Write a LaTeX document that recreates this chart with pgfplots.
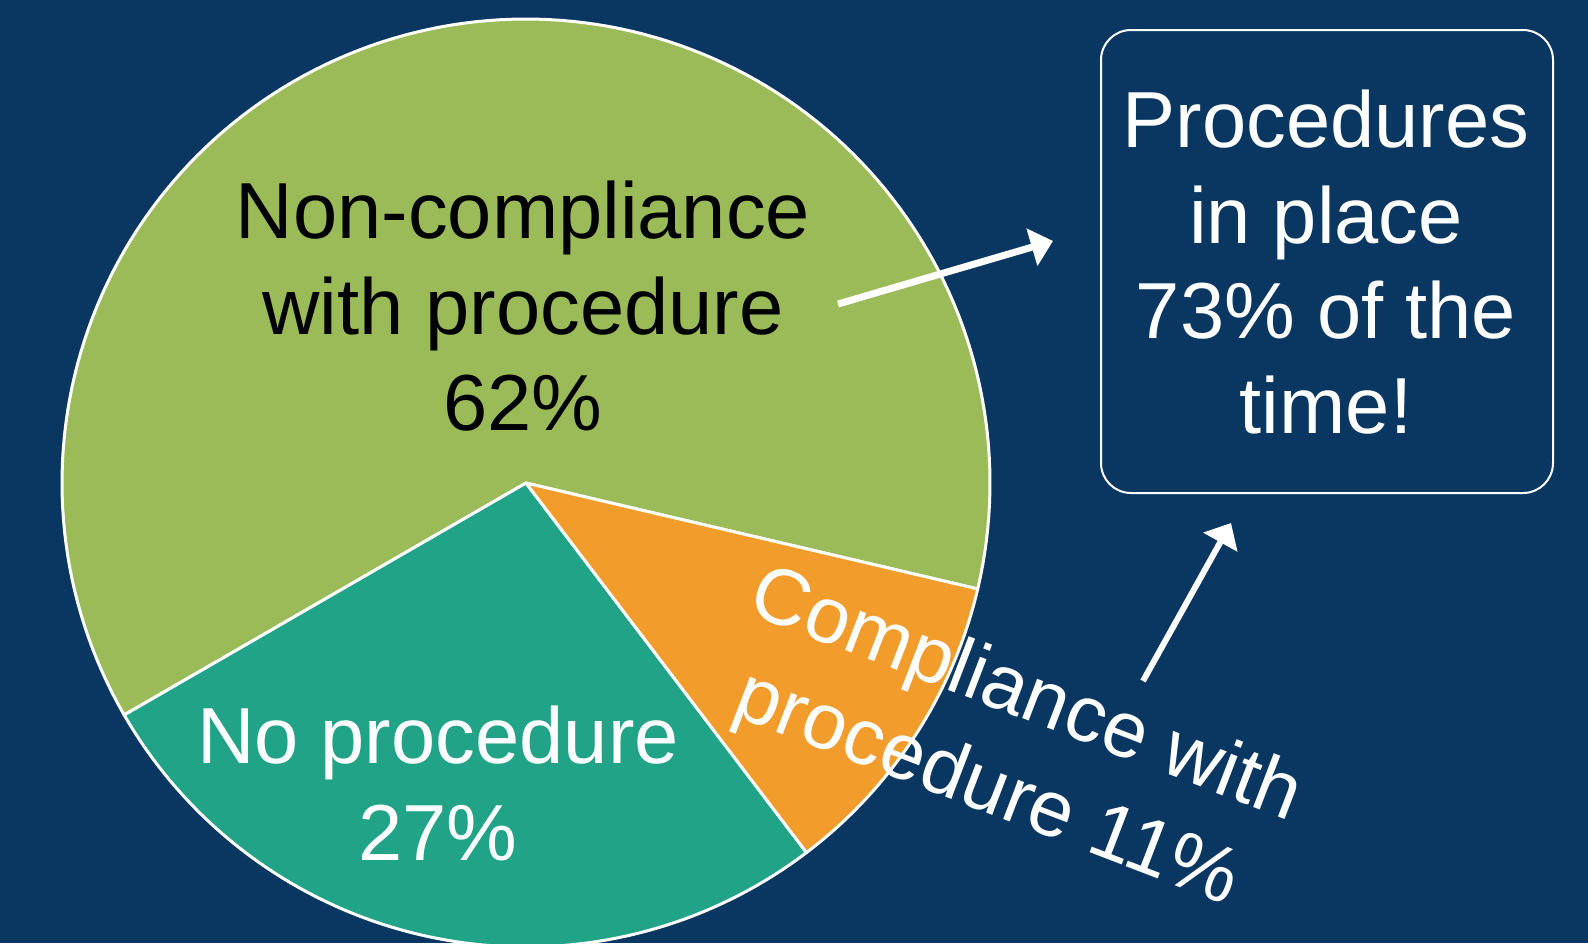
\documentclass[border=0pt]{standalone}
\usepackage{fontspec}
\setmainfont{Liberation Sans}
\usepackage{pgfplots}
\pgfplotsset{compat=1.18}
\usetikzlibrary{arrows.meta}
\definecolor{bg}{RGB}{9,55,98}
\definecolor{pgreen}{RGB}{155,187,89}
\definecolor{pteal}{RGB}{32,163,135}
\definecolor{porange}{RGB}{242,156,43}
\newcommand\bigtxt{\fontsize{79.5}{97}\selectfont}
\begin{document}
\begin{tikzpicture}
\def\cx{526}\def\cy{483}\def\r{464}
% shares (percent)
\def\vA{62}\def\vB{27}\def\vC{11}
\pgfmathsetmacro\aA{-13.2}
\pgfmathsetmacro\aB{\aA+\vA*3.6}
\pgfmathsetmacro\aC{\aB+\vB*3.6}
\pgfmathsetmacro\aD{\aC+\vC*3.6}
\begin{axis}[name=ax, width=1588pt, height=943pt, scale only axis,
  xmin=0, xmax=1588, ymin=0, ymax=943, y dir=reverse,
  axis lines=none, ticks=none, clip=true]
\fill[bg] (0,0) rectangle (1588,943);
\addplot[fill=pgreen, draw=white, line width=3pt, line join=round, domain=\aA:\aB, samples=150, variable=\t]
  ({\cx+\r*cos(\t)},{\cy-\r*sin(\t)}) -- (\cx,\cy) -- cycle;
\addplot[fill=pteal, draw=white, line width=3pt, line join=round, domain=\aB:\aC, samples=80, variable=\t]
  ({\cx+\r*cos(\t)},{\cy-\r*sin(\t)}) -- (\cx,\cy) -- cycle;
\addplot[fill=porange, draw=white, line width=3pt, line join=round, domain=\aC:\aD, samples=40, variable=\t]
  ({\cx+\r*cos(\t)},{\cy-\r*sin(\t)}) -- (\cx,\cy) -- cycle;
% labels
\node[anchor=base, font=\bigtxt, text=black, inner sep=0pt] at (523,238) {Non-compliance};
\node[anchor=base, font=\bigtxt, text=black, inner sep=0pt] at (523,334) {with procedure};
\node[anchor=base, font=\bigtxt, text=black, inner sep=0pt] at (523,430) {62\%};
\node[anchor=base, font=\bigtxt, text=white, inner sep=0pt] at (438,763) {No procedure};
\node[anchor=base, font=\bigtxt, text=white, inner sep=0pt] at (438,860) {27\%};
\node[anchor=base, font=\bigtxt, text=white, inner sep=0pt, rotate=-21] at (1018,717) {Compliance with};
\node[anchor=base, font=\bigtxt, text=white, inner sep=0pt, rotate=-21] at (979,810) {procedure 11\%};
% box
\draw[white, line width=2pt, rounded corners=30pt] (1101,30) rectangle (1553,493);
\node[anchor=base, font=\bigtxt, text=white, inner sep=0pt] at (1326,147) {Procedures};
\node[anchor=base, font=\bigtxt, text=white, inner sep=0pt] at (1326,243) {in place};
\node[anchor=base, font=\bigtxt, text=white, inner sep=0pt] at (1326,338) {73\% of the};
\node[anchor=base, font=\bigtxt, text=white, inner sep=0pt] at (1326,433) {time!};
% arrows
\draw[white, line width=7pt, -{Triangle[length=22pt, width=38pt]}] (838,304) -- (1053,241);
\draw[white, line width=6pt, -{Triangle[length=22pt, width=38pt]}] (1143,681) -- (1231,523);
\end{axis}
\pgfresetboundingbox
\useasboundingbox (ax.south west) rectangle (ax.north east);
\end{tikzpicture}
\end{document}
